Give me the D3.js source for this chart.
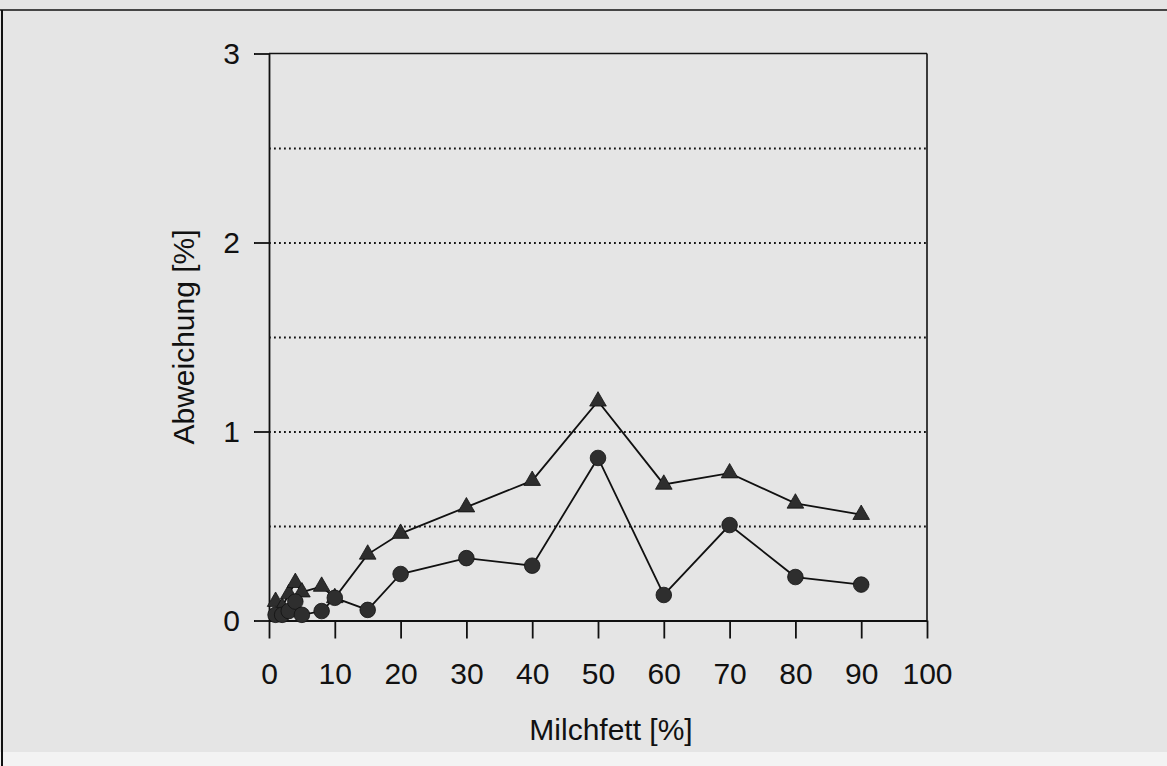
<!DOCTYPE html>
<html>
<head>
<meta charset="utf-8">
<script src="https://cdn.jsdelivr.net/npm/d3@7"></script>
<style>
  body { margin: 0; background: #fff; }
  svg { display: block; font-family: "Liberation Sans", Arial, sans-serif; }
</style>
</head>
<body>
<div id="chart"></div>
<script>
// values
const xCats = [1, 2, 3, 4, 5, 8, 10, 15, 20, 30, 40, 50, 60, 70, 80, 90]
const triangleVals = [0.10, 0.07, 0.14, 0.20, 0.15, 0.18, 0.12, 0.35, 0.46, 0.60, 0.74, 1.16, 0.72, 0.78, 0.62, 0.56]
const circleVals = [0.03, 0.03, 0.05, 0.10, 0.03, 0.05, 0.12, 0.056, 0.246, 0.33, 0.29, 0.86, 0.135, 0.505, 0.23, 0.19]
const xTicks = [0, 10, 20, 30, 40, 50, 60, 70, 80, 90, 100]
const yTicks = [0, 1, 2, 3]
const gridVals = [0.5, 1, 1.5, 2, 2.5]

const W = 1167, H = 766
const plotL = 269, plotR = 927, plotT = 53.5, plotB = 620.5

let svg = d3.select("#chart").append("svg")
  .attr("width", W)
  .attr("height", H)

// stippled paper look
svg.append("rect")
  .attr("width", W)
  .attr("height", H)
  .attr("fill", "#e5e5e5")
svg.append("rect")
  .attr("y", 752)
  .attr("width", W)
  .attr("height", H - 752)
  .attr("fill", "#f3f3f3")

// scan border at top and left
svg.append("line").attr("x1", 0).attr("x2", W).attr("y1", 10).attr("y2", 10)
  .attr("stroke", "#111").attr("stroke-width", 1.5)
svg.append("line").attr("x1", 2).attr("x2", 2).attr("y1", 10).attr("y2", H)
  .attr("stroke", "#111").attr("stroke-width", 2)

let x = d3.scaleLinear().domain([0, 100]).range([plotL, plotR])
let y = d3.scaleLinear().domain([0, 3]).range([plotB, plotT])

// dotted gridlines
svg.append("g")
  .attr("transform", `translate(${plotL},0)`)
  .call(d3.axisLeft(y).tickValues(gridVals).tickSize(-(plotR - plotL)).tickFormat(""))
  .call(g => g.select(".domain").remove())
  .call(g => g.selectAll("line")
    .attr("stroke", "#111")
    .attr("stroke-width", 1.8)
    .attr("stroke-dasharray", "1.8,3.2"))

// frame: top and right
svg.append("line")
  .attr("x1", x(0)).attr("x2", x(100)).attr("y1", y(3)).attr("y2", y(3))
  .attr("stroke", "#111").attr("stroke-width", 1.6)
svg.append("line")
  .attr("x1", x(100)).attr("x2", x(100)).attr("y1", y(3)).attr("y2", y(0))
  .attr("stroke", "#111").attr("stroke-width", 1.6)

// y axis
let yAxis = svg.append("g")
  .attr("transform", `translate(${plotL},0)`)
  .call(d3.axisLeft(y).tickValues(yTicks).tickFormat(d3.format("d")).tickSize(15).tickSizeOuter(0).tickPadding(14))
yAxis.select(".domain").attr("stroke", "#111").attr("stroke-width", 1.8)
yAxis.selectAll("line").attr("stroke", "#111").attr("stroke-width", 1.8)
yAxis.selectAll("text")
  .attr("font-size", 30)
  .attr("font-family", "Liberation Sans, Arial, sans-serif")
  .attr("fill", "#111")

// x axis
let xAxis = svg.append("g")
  .attr("transform", `translate(0,${plotB})`)
  .call(d3.axisBottom(x).tickValues(xTicks).tickSize(18).tickSizeOuter(0).tickPadding(24))
xAxis.select(".domain").attr("stroke", "#111").attr("stroke-width", 1.8)
xAxis.selectAll("line").attr("stroke", "#111").attr("stroke-width", 1.8)
xAxis.selectAll("text")
  .attr("font-size", 30)
  .attr("font-family", "Liberation Sans, Arial, sans-serif")
  .attr("fill", "#111")

// axis titles
svg.append("text")
  .attr("x", x(50) + 13)
  .attr("y", 740)
  .attr("text-anchor", "middle")
  .attr("font-size", 30)
  .attr("fill", "#111")
  .text("Milchfett [%]")

svg.append("text")
  .attr("transform", `translate(194,${(plotT + plotB) / 2}) rotate(-90)`)
  .attr("text-anchor", "middle")
  .attr("font-size", 30)
  .attr("fill", "#111")
  .text("Abweichung [%]")

// series
let triData = xCats.map((c, i) => ({ x: c, v: triangleVals[i] }))
let cirData = xCats.map((c, i) => ({ x: c, v: circleVals[i] }))

let line = d3.line().x(d => x(d.x)).y(d => y(d.v))

svg.append("path")
  .datum(triData)
  .attr("d", line)
  .attr("fill", "none")
  .attr("stroke", "#111")
  .attr("stroke-width", 1.8)

svg.append("path")
  .datum(cirData)
  .attr("d", line)
  .attr("fill", "none")
  .attr("stroke", "#111")
  .attr("stroke-width", 1.8)

svg.selectAll(".tri")
  .data(triData)
  .enter()
  .append("path")
  .attr("class", "tri")
  .attr("transform", d => `translate(${x(d.x)},${y(d.v)})`)
  .attr("d", d3.symbol().type(d3.symbolTriangle).size(120))
  .attr("fill", "#2e2e2e")
  .attr("stroke", "#111")
  .attr("stroke-width", 0.8)

svg.selectAll(".cir")
  .data(cirData)
  .enter()
  .append("circle")
  .attr("class", "cir")
  .attr("cx", d => x(d.x))
  .attr("cy", d => y(d.v))
  .attr("r", 7.8)
  .attr("fill", "#2e2e2e")
  .attr("stroke", "#111")
  .attr("stroke-width", 0.8)
</script>
</body>
</html>
